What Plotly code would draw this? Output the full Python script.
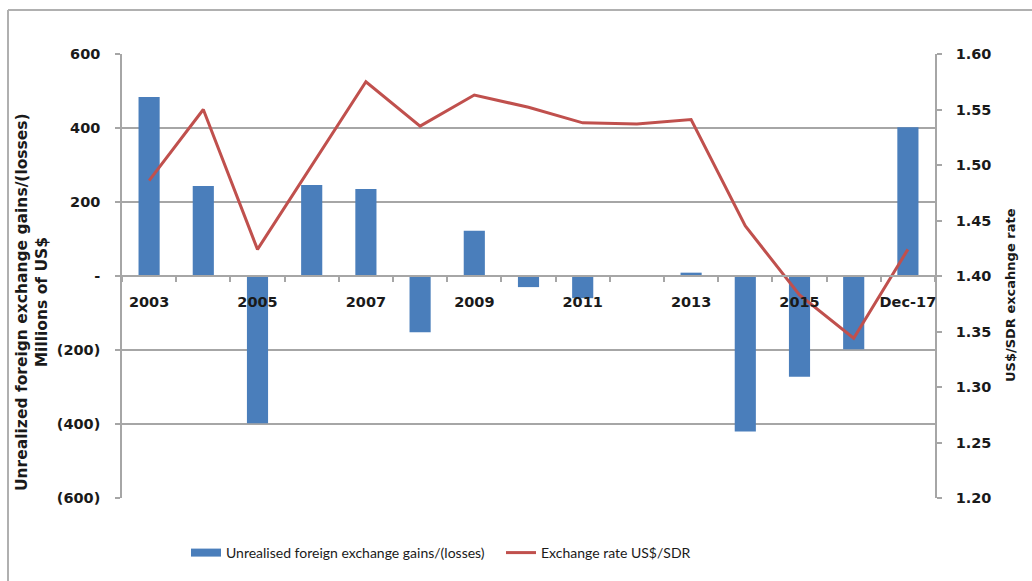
import plotly.graph_objects as go

# Years shown on the category axis
categories = ["2003", "2004", "2005", "2006", "2007", "2008", "2009", "2010",
              "2011", "2012", "2013", "2014", "2015", "2016", "Dec-17"]
# Only every other category carries a visible label
category_labels = ["2003", "", "2005", "", "2007", "", "2009", "",
                   "2011", "", "2013", "", "2015", "", "Dec-17"]

# Unrealised foreign exchange gains/(losses), millions of US$
fx_gains = [484, 243, -398, 246, 235, -152, 122, -30, -60, 0, 9, -420, -272, -198, 402]
# Exchange rate US$/SDR
fx_rate = [1.486, 1.550, 1.424, 1.500, 1.575, 1.535, 1.563, 1.552, 1.538, 1.537,
           1.541, 1.445, 1.383, 1.344, 1.424]

left_ticks = [600, 400, 200, 0, -200, -400, -600]
left_tick_text = ["600", "400", "200", "-", "(200)", "(400)", "(600)"]
right_ticks = [1.20, 1.25, 1.30, 1.35, 1.40, 1.45, 1.50, 1.55, 1.60]

BAR_NAME = "Unrealised foreign exchange gains/(losses)"
LINE_NAME = "Exchange rate US$/SDR"

BLUE = "#4a7ebb"
RED = "#c0504d"
GRID = "#a6a6a6"
TXT = "#1a1a1a"

W, H = 1032, 581
ML, MR, MT, MB = 122, 97, 54, 83
left_range = [-600, 600]

fig = go.Figure()
fig.add_trace(go.Bar(
    x=categories, y=fx_gains, name=BAR_NAME, showlegend=False, legendgroup="bars",
    marker=dict(color=BLUE, line=dict(width=0)), width=0.39, yaxis="y",
))
# Legend key for the bars drawn as a wide flat swatch
fig.add_trace(go.Scatter(
    x=[None], y=[None], name=BAR_NAME, mode="lines", legendgroup="bars",
    line=dict(color=BLUE, width=8), yaxis="y",
))
fig.add_trace(go.Scatter(
    x=categories, y=fx_rate, name=LINE_NAME, mode="lines",
    line=dict(color=RED, width=3), yaxis="y2",
))

tick_font = dict(family="DejaVu Sans", size=14.5, color=TXT, weight="bold")
title_font = dict(family="DejaVu Sans", size=15.5, color=TXT, weight="bold")

pw, ph = W - ML - MR, H - MT - MB
fx = lambda px: (px - ML) / pw
fy = lambda py: (H - MB - py) / ph

fig.update_layout(
    width=W, height=H,
    margin=dict(l=ML, r=MR, t=MT, b=MB),
    paper_bgcolor="white", plot_bgcolor="white",
    showlegend=True,
    legend=dict(
        orientation="h", x=fx(186), xanchor="left",
        y=fy(553), yanchor="middle",
        font=dict(family="Lato", size=14, color=TXT),
        itemwidth=30, entrywidth=270, bgcolor="rgba(0,0,0,0)",
    ),
    xaxis=dict(
        type="category", tickmode="array", tickvals=categories, ticktext=category_labels,
        tickson="boundaries", ticks="outside", ticklen=5, tickcolor=GRID, tickwidth=1.5,
        showline=True, linecolor=GRID, linewidth=1.5, showgrid=False, zeroline=False,
        anchor="free",
        position=(0 - left_range[0]) / (left_range[1] - left_range[0]),
        tickfont=tick_font, tickangle=0, ticklabelstandoff=13,
        range=[-0.5, len(categories) - 0.5],
    ),
    yaxis=dict(
        range=left_range, tickmode="array", tickvals=left_ticks, ticktext=left_tick_text,
        ticks="outside", ticklen=5, tickcolor=GRID, tickwidth=1.5,
        showline=True, linecolor=GRID, linewidth=1.5,
        showgrid=True, gridcolor=GRID, gridwidth=1.5, zeroline=False,
        tickfont=tick_font, ticklabelstandoff=12,
    ),
    yaxis2=dict(
        range=[1.2, 1.6], tickmode="array", tickvals=right_ticks, tickformat=".2f",
        overlaying="y", side="right", anchor="x",
        ticks="outside", ticklen=5, tickcolor=GRID, tickwidth=1.5,
        showline=True, linecolor=GRID, linewidth=1.5, showgrid=False, zeroline=False,
        tickfont=tick_font, ticklabelstandoff=11,
    ),
)

# Axis titles
fig.add_annotation(
    text="Unrealized foreign exchange gains/(losses)<br>Millions of US$",
    xref="paper", yref="paper", x=fx(32), y=fy(302), xanchor="center", yanchor="middle",
    textangle=-90, showarrow=False, font=title_font,
)
fig.add_annotation(
    text="US$/SDR excahnge rate",
    xref="paper", yref="paper", x=fx(1010), y=fy(295), xanchor="center", yanchor="middle",
    textangle=-90, showarrow=False,
    font=dict(family="DejaVu Sans", size=13, color=TXT, weight="bold"),
)

# Outer chart frame: top and left edges
fig.add_shape(type="line", xref="paper", yref="paper",
              x0=fx(8), x1=fx(W), y0=fy(10), y1=fy(10),
              line=dict(color="#b0b0b0", width=2))
fig.add_shape(type="line", xref="paper", yref="paper",
              x0=fx(8), x1=fx(8), y0=fy(10), y1=fy(H),
              line=dict(color="#b0b0b0", width=2))

fig.write_html("out.html")
